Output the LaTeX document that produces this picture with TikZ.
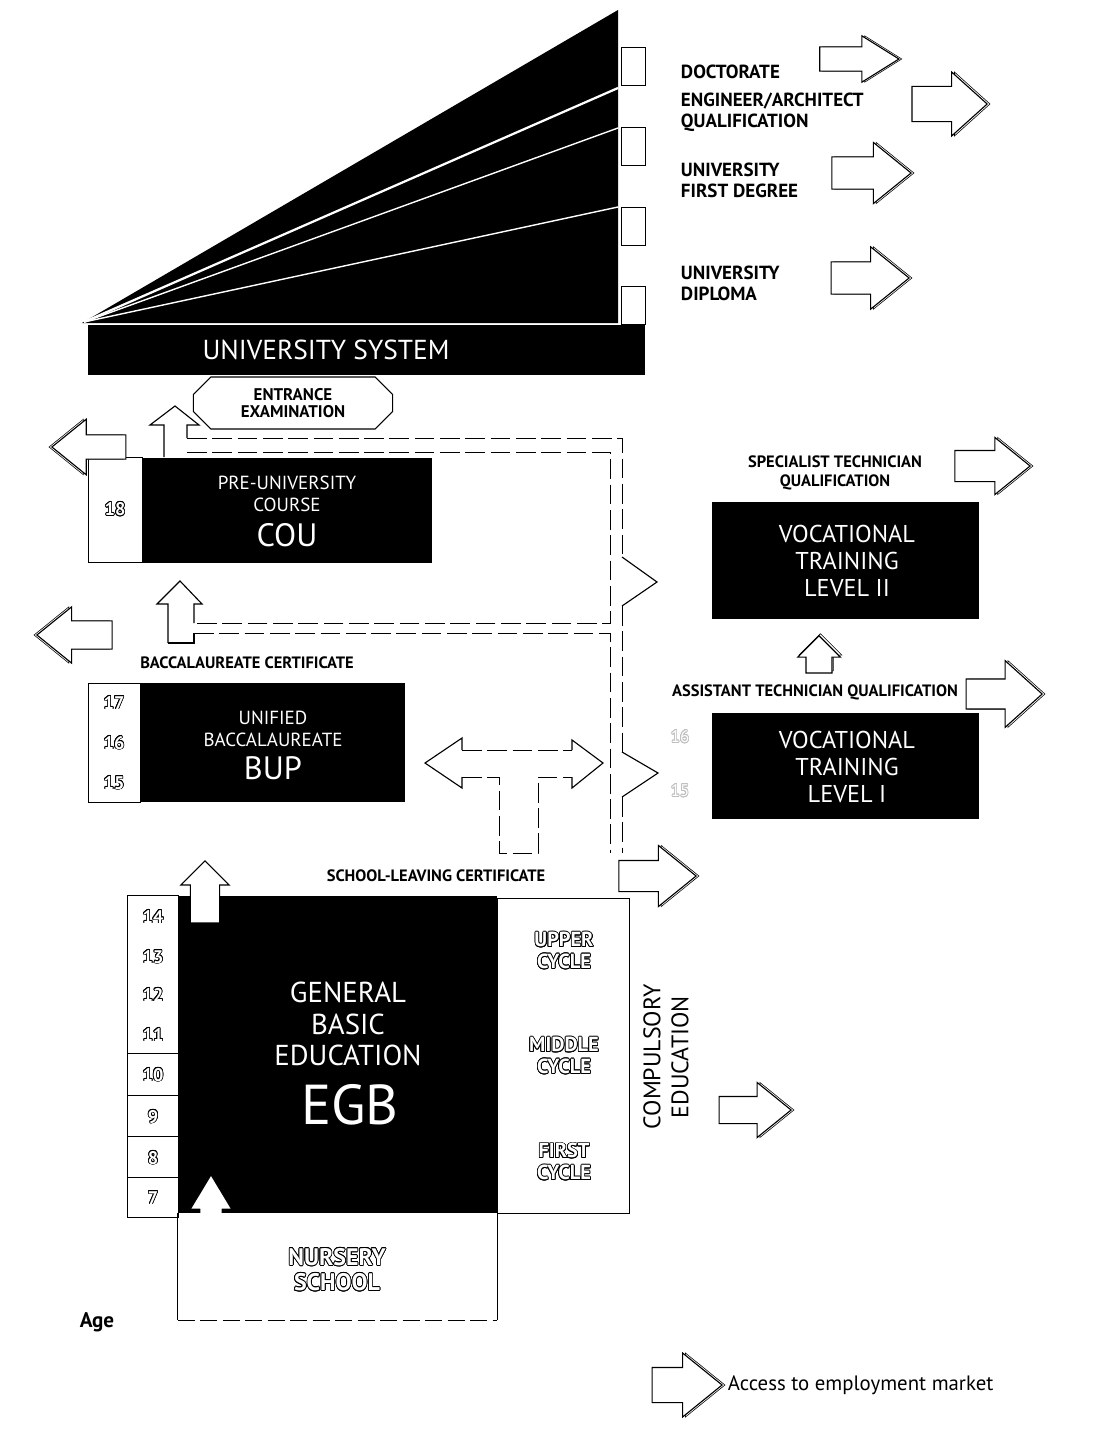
\documentclass[tikz,border=0pt]{standalone}
\usepackage{fontspec}
\setmainfont{PT Sans}
\usepackage[copies]{contour}
\usepackage{tikz}
\usetikzlibrary{shapes.arrows,shapes.misc,fit,shadows}
\contourlength{0.55pt}
\newcommand{\fsz}[2]{\fontsize{#1}{#2}\selectfont}
\newcommand{\hollow}[1]{\contour{black}{#1}}

\begin{document}
\begin{tikzpicture}[x=0.025cm, y=-0.025cm,
    blackbox/.style={fill=black, inner sep=0pt},
    agebox/.style={draw=black, thin, fill=white, inner sep=0pt},
    boxtext/.style={text=white, align=center, font=\fsz{13.5}{15.5}},
    bigtext/.style={text=white, font=\fsz{23}{26}},
    vttext/.style={text=white, align=center, font=\fsz{17.3}{19.5}},
    qualtext/.style={align=left, font=\bfseries\fsz{13.5}{15}},
    certtext/.style={align=center, font=\bfseries\fsz{11.7}{14}},
    agenum/.style={text=white, font=\bfseries\fsz{13}{15}},
    cycletext/.style={text=white, align=center, font=\bfseries\fsz{14.5}{15.6}},
    exambox/.style={chamfered rectangle, chamfered rectangle xsep=0.32cm, draw=black, thick, fill=white,
        minimum width=4.98cm, minimum height=1.3cm, inner sep=0pt, align=center, font=\bfseries\fsz{12}{12.5}},
    jobarrow/.style={single arrow, draw=black, thick, fill=white, inner xsep=0pt, single arrow tip angle=78},
    uparrow/.style={jobarrow, shape border rotate=90, inner ysep=0pt, inner xsep=#1},
    rshadow/.style={general shadow={shadow xshift=2pt, draw=black, thin, fill=white}},
    lshadow/.style={general shadow={shadow xshift=-2pt, draw=black, thin, fill=white}},
    ushadow/.style={general shadow={shadow yshift=1.5pt, shadow xshift=1pt, draw=black, thin, fill=white}},
    arrowline/.style={thick, line join=miter},
    pipe/.style={thin, dash pattern=on 14pt off 4pt}
  ]
  \path[fill=white] (0,0) rectangle (1101,1446);

  % university system
  \fill[black] (82,323) -- (618,10) -- (618,323) -- cycle;
  \draw[white, line width=1.6pt] (84,322) -- (618,88);
  \draw[white, line width=1pt] (84,322) -- (618,128);
  \draw[white, line width=1pt] (84,322) -- (618,207);
  \foreach \yy [count=\i] in {47,127,207,286}
    \node[agebox, fit={(621,\yy) (645,\yy+38)}] (deg\i) {};
  \node[blackbox, fit={(88,325) (645,375)}] (unisys) {};
  \node[text=white, font=\fsz{19.5}{22}] (unisyslbl) at (326,350) {UNIVERSITY SYSTEM};

  \node[qualtext, anchor=west] (doc) at (676,72) {DOCTORATE};
  \node[qualtext, anchor=west] (eng) at (676,112) {ENGINEER/ARCHITECT\\QUALIFICATION};
  \node[qualtext, anchor=west] (first) at (676,180) {UNIVERSITY\\FIRST DEGREE};
  \node[qualtext, anchor=west] (dipl) at (676,283) {UNIVERSITY\\DIPLOMA};

  \node[jobarrow, rshadow, anchor=tip, minimum height=1.98cm, inner ysep=0.29cm, single arrow head extend=0.275cm, single arrow tip angle=64] (docout) at (900,59) {};
  \node[jobarrow, rshadow, anchor=tip, minimum height=1.88cm, inner ysep=0.425cm, single arrow head extend=0.36cm, single arrow tip angle=84] (engout) at (988,104) {};
  \node[jobarrow, rshadow, anchor=tip, minimum height=1.98cm, inner ysep=0.39cm, single arrow head extend=0.36cm] (firstout) at (912,173) {};
  \node[jobarrow, rshadow, anchor=tip, minimum height=1.95cm, inner ysep=0.39cm, single arrow head extend=0.375cm] (diplout) at (910,278) {};

  % entrance examination and pre-university course
  \node[exambox] (exam) at (293,403) {ENTRANCE\\EXAMINATION};
  \node[agebox, fit={(88,457) (142,562)}] (couage) {};
  \node[agenum] at (couage.center) {\hollow{18}};
  \node[blackbox, fit={(142,458) (432,563)}] (cou) {};
  \node[boxtext] (coulbl) at (287,494) {PRE-UNIVERSITY\\COURSE};
  \node[bigtext] (coubig) at (287,535) {COU};
  \node[jobarrow, lshadow, shape border rotate=180, anchor=tip, minimum height=1.85cm, inner ysep=0.29cm, single arrow head extend=0.39cm] (couout) at (51,447) {};

  \draw[arrowline] (164,457) -- (164,425) -- (150,425) -- (175,406) -- (199,425) -- (187,425) -- (187,438);
  \draw[arrowline] (168,643) -- (168,604) -- (157,604) -- (180,581) -- (202,604) -- (194,604) -- (194,623);
  \draw[arrowline] (194,633) -- (194,643) -- (168,643);

  % bridge between the two branches
  \draw[pipe] (187,438) -- (622,438) -- (622,557);
  \draw[arrowline] (622,557) -- (657,582) -- (622,606);
  \draw[pipe] (622,606) -- (622,752);
  \draw[arrowline] (622,752) -- (658,773) -- (622,797);
  \draw[pipe] (622,797) -- (622,853);
  \draw[pipe] (187,452) -- (610,452) -- (610,623) -- (194,623);
  \draw[pipe] (194,633) -- (610,633) -- (610,853);

  % unified baccalaureate
  \node[certtext] (bacc) at (247,663) {BACCALAUREATE CERTIFICATE};
  \node[jobarrow, lshadow, shape border rotate=180, anchor=tip, minimum height=1.88cm, inner ysep=0.34cm, single arrow head extend=0.35cm] (bupout) at (36,635) {};
  \node[agebox, fit={(88,683) (140,802)}] (bupage) {};
  \node[agenum] at (114,703) {\hollow{17}};
  \node[agenum] at (114,743) {\hollow{16}};
  \node[agenum] at (114,783) {\hollow{15}};
  \node[blackbox, fit={(140,683) (405,802)}] (bup) {};
  \node[boxtext] (buplbl) at (273,729) {UNIFIED\\BACCALAUREATE};
  \node[bigtext] (bupbig) at (273,768) {BUP};

  % two-way link from the school-leaving certificate
  \draw[arrowline] (462,750) -- (462,738) -- (425,763) -- (462,788) -- (462,777);
  \draw[arrowline] (572,750) -- (572,740) -- (603,763) -- (572,788) -- (572,777);
  \draw[pipe] (462,750) -- (572,750);
  \draw[pipe] (462,777) -- (499,777) -- (499,853) -- (538,853) -- (538,777) -- (572,777);

  % vocational training
  \node[certtext] (spec) at (835,473) {SPECIALIST TECHNICIAN\\QUALIFICATION};
  \node[jobarrow, rshadow, anchor=tip, minimum height=1.88cm, inner ysep=0.375cm, single arrow head extend=0.325cm] (specout) at (1031,466) {};
  \node[blackbox, fit={(712,502) (979,619)}] (vt2) {};
  \node[vttext] (vt2lbl) at (847,561) {VOCATIONAL\\TRAINING\\LEVEL II};
  \node[uparrow=0.31cm, ushadow, anchor=tip, minimum height=0.93cm, single arrow head extend=0.21cm, single arrow tip angle=90] (vtup) at (819,635) {};
  \node[certtext] (assist) at (815,692) {ASSISTANT TECHNICIAN QUALIFICATION};
  \node[jobarrow, rshadow, anchor=tip, minimum height=1.9cm, inner ysep=0.36cm, single arrow head extend=0.46cm, single arrow tip angle=84] (assistout) at (1043,694) {};
  \node[blackbox, fit={(712,713) (979,819)}] (vt1) {};
  \node[vttext] (vt1lbl) at (847,767) {VOCATIONAL\\TRAINING\\LEVEL I};
  \node[agenum, font=\fsz{12}{14}] (vtage1) at (680,737) {\contour{black!25}{16}};
  \node[agenum, font=\fsz{12}{14}] (vtage2) at (680,791) {\contour{black!25}{15}};

  % general basic education
  \node[certtext] (leave) at (436,876) {SCHOOL-LEAVING CERTIFICATE};
  \node[jobarrow, rshadow, anchor=tip, minimum height=1.93cm, inner ysep=0.375cm, single arrow head extend=0.375cm] (leaveout) at (697,876) {};
  \node[agebox, fit={(127,895) (178,1217)}] (egbage) {};
  \foreach \yy in {1053,1095,1136,1177}
    \draw[thin] (127,\yy) -- (178,\yy);
  \foreach \a/\yy in {14/917,13/957,12/995,11/1035,10/1075,9/1117,8/1158,7/1198}
    \node[agenum] at (153,\yy) {\hollow{\a}};
  \node[blackbox, fit={(178,896) (497,1213)}] (egb) {};
  \node[text=white, align=center, font=\fsz{20.5}{22.6}] (egblbl) at (348,1024) {GENERAL\\BASIC\\EDUCATION};
  \node[text=white, font=\fsz{40}{44}] (egbbig) at (350,1105) {EGB};
  \node[agebox, fit={(497,898) (629,1213)}] (cycles) {};
  \node[cycletext] (upper) at (564,951) {\hollow{UPPER}\\\hollow{CYCLE}};
  \node[cycletext] (middle) at (564,1056) {\hollow{MIDDLE}\\\hollow{CYCLE}};
  \node[cycletext] (firstc) at (564,1162) {\hollow{FIRST}\\\hollow{CYCLE}};
  \node[rotate=90, align=center, font=\fsz{17}{20}] (compul) at (666,1057) {COMPULSORY\\EDUCATION};
  \node[jobarrow, rshadow, anchor=tip, minimum height=1.8cm, inner ysep=0.325cm, single arrow head extend=0.35cm] (compout) at (792,1110) {};

  \node[uparrow=0.35cm, anchor=tip, minimum height=1.55cm, single arrow head extend=0.24cm, single arrow tip angle=90] (egbup) at (205,860) {};
  \node[uparrow=0.25cm, draw=none, anchor=tip, minimum height=1.3cm, single arrow head extend=0.225cm, single arrow tip angle=62] (nurseryup) at (211,1175) {};

  % nursery school
  \node[inner sep=0pt, fit={(178,1213) (497,1320)}] (nursery) {};
  \draw[thin] (nursery.north west) -- (nursery.south west);
  \draw[thin] (nursery.north east) -- (nursery.south east);
  \draw[thin, dash pattern=on 12pt off 4pt] (nursery.south west) -- (nursery.south east);
  \node[cycletext, font=\bfseries\fsz{17}{18}] (nurserylbl) at (337,1270) {\hollow{NURSERY}\\\hollow{SCHOOL}};
  \node[font=\bfseries\fsz{15}{16}] (agelbl) at (97,1322) {Age};

  % legend
  \node[jobarrow, rshadow, anchor=tip, minimum height=1.75cm, inner ysep=0.425cm, single arrow head extend=0.36cm] (legarrow) at (723,1385) {};
  \node[anchor=west, font=\fsz{14.8}{16}] (leglbl) at (legarrow.tip) {Access to employment market};
\end{tikzpicture}
\end{document}
